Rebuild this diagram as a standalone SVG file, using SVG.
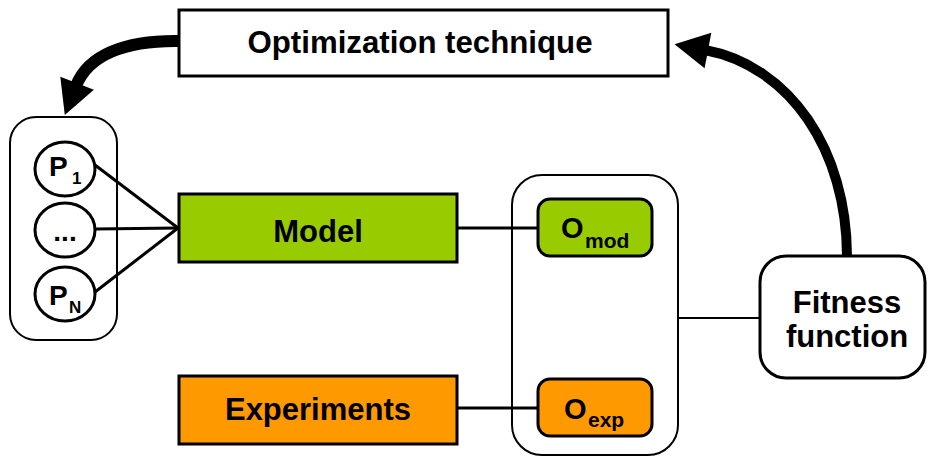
<svg xmlns="http://www.w3.org/2000/svg" width="928" height="457" viewBox="0 0 928 457">
  <style>
    text { font-family: "Liberation Sans", Arial, sans-serif; font-weight: bold; fill: #000; }
    .lbl { font-size: 31px; text-anchor: middle; }
    .p { font-size: 28px; }
    .sub { font-size: 17px; }
    .o { font-size: 29px; }
    .osub { font-size: 21px; }
    .box { stroke: #000; stroke-width: 3; }
    .group { fill: #fff; stroke: #000; stroke-width: 2; }
    .wire { stroke: #000; stroke-width: 3; fill: none; }
    .thin { stroke: #000; stroke-width: 2; fill: none; }
    .loop { stroke: #000; fill: none; marker-end: url(#head); }
  </style>
  <defs>
    <marker id="head" markerUnits="userSpaceOnUse" markerWidth="36" markerHeight="38" refX="3" refY="18" orient="auto" overflow="visible">
      <path d="M0,0 L34,18 L0,36 Z" fill="#000"/>
    </marker>
  </defs>

  <rect width="928" height="457" fill="#fff"/>

  <!-- parameter set -->
  <g id="parameters">
    <rect class="group" x="10" y="117" width="107" height="223" rx="26"/>
  </g>
  <g id="p1">
    <ellipse cx="65" cy="169" rx="30" ry="27" fill="#fff" class="box"/>
    <text x="49" y="176" class="p">P</text>
    <text x="72" y="184" class="sub">1</text>
  </g>
  <g id="pdots">
    <ellipse cx="65" cy="230" rx="30" ry="27" fill="#fff" class="box"/>
    <text x="65" y="241" class="p" text-anchor="middle">...</text>
  </g>
  <g id="pn">
    <ellipse cx="65" cy="294" rx="30" ry="27" fill="#fff" class="box"/>
    <text x="49" y="305" class="p">P</text>
    <text x="69" y="313" class="sub">N</text>
  </g>

  <!-- outputs group -->
  <g id="outputs">
    <rect class="group" x="512" y="175" width="166" height="280" rx="30"/>
  </g>

  <g id="connectors">
    <line class="wire" x1="95" y1="165" x2="178" y2="228"/>
    <line class="wire" x1="95" y1="229" x2="178" y2="228"/>
    <line class="wire" x1="95" y1="292" x2="178" y2="228"/>
    <line class="wire" x1="457" y1="228" x2="537" y2="228"/>
    <line class="wire" x1="457" y1="408" x2="537" y2="408"/>
    <line class="thin" x1="678" y1="318" x2="760" y2="318"/>
    <path class="loop" stroke-width="12" d="M180,41 C125,40 88,55 76,86"/>
    <path class="loop" stroke-width="10" d="M847,257 C847,150 790,66 705,50"/>
  </g>

  <g id="optimization">
    <rect class="box" x="179" y="10" width="489" height="66" fill="#fff"/>
    <text x="420" y="53" class="lbl" textLength="345" lengthAdjust="spacingAndGlyphs">Optimization technique</text>
  </g>

  <g id="model">
    <rect class="box" x="179" y="194" width="278" height="68" fill="#99CC00"/>
    <text x="318" y="242" class="lbl">Model</text>
  </g>

  <g id="experiments">
    <rect class="box" x="179" y="376" width="278" height="68" fill="#FF9900"/>
    <text x="318" y="420" class="lbl">Experiments</text>
  </g>

  <g id="omod">
    <rect class="box" x="538" y="199" width="114" height="57" rx="12" fill="#99CC00"/>
    <text x="561" y="238" class="o">O</text>
    <text x="585" y="248" class="osub">mod</text>
  </g>

  <g id="oexp">
    <rect class="box" x="538" y="379" width="114" height="57" rx="12" fill="#FF9900"/>
    <text x="564" y="419" class="o">O</text>
    <text x="588" y="427" class="osub">exp</text>
  </g>

  <g id="fitness">
    <rect class="box" x="760" y="256" width="165" height="122" rx="26" fill="#fff"/>
    <text x="847" y="313" class="lbl">Fitness</text>
    <text x="847" y="347" class="lbl">function</text>
  </g>
</svg>
